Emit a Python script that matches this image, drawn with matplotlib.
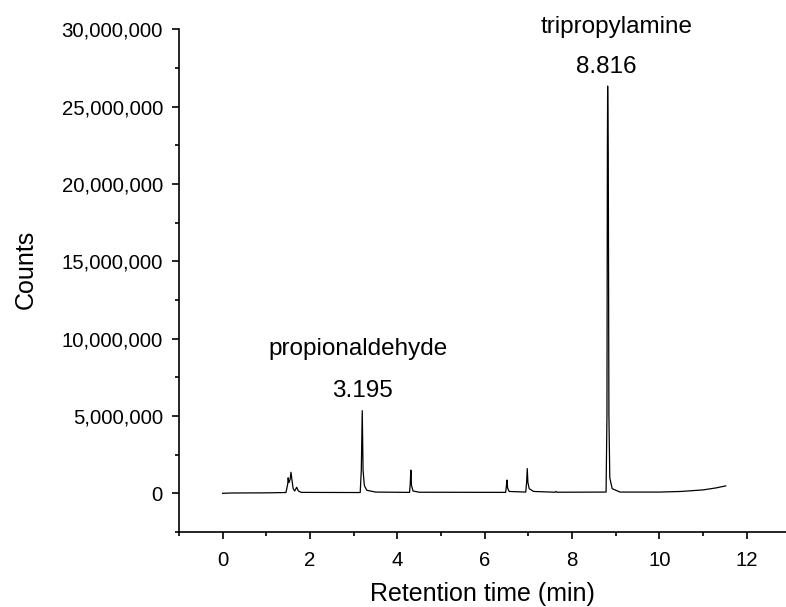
import matplotlib.pyplot as plt
from matplotlib.ticker import FuncFormatter, MultipleLocator

plt.rcParams['font.family'] = ['Liberation Sans', 'DejaVu Sans']

# chromatogram trace (time in min, counts)
time_min = [0.0, 0.2, 1.0, 1.45, 1.49, 1.50, 1.52, 1.545, 1.565, 1.585, 1.615, 1.65,
            1.695, 1.735, 1.8, 3.15, 3.175, 3.197, 3.215, 3.245, 3.3, 3.5,
            4.28, 4.295, 4.31, 4.325, 4.36, 4.5, 6.48, 6.495, 6.51, 6.525, 6.56,
            6.94, 6.96, 6.975, 6.99, 7.02, 7.12, 7.61, 7.63, 7.65, 8.78, 8.80,
            8.81, 8.816, 8.83, 8.845, 8.865, 8.92, 9.1, 10.0, 10.5, 11.0, 11.3, 11.52]
counts = [0.0, 0.02e6, 0.03e6, 0.05e6, 0.6e6, 1.0e6, 0.7e6, 0.9e6, 1.36e6, 0.9e6, 0.3e6, 0.15e6,
          0.39e6, 0.15e6, 0.06e6, 0.05e6, 1.5e6, 5.34e6, 1.5e6, 0.5e6, 0.2e6, 0.08e6,
          0.06e6, 0.6e6, 1.5e6, 0.5e6, 0.15e6, 0.07e6, 0.06e6, 0.4e6, 0.86e6, 0.35e6, 0.12e6,
          0.08e6, 0.7e6, 1.6e6, 0.7e6, 0.3e6, 0.12e6, 0.07e6, 0.12e6, 0.07e6, 0.08e6, 5.0e6,
          22.3e6, 26.33e6, 22.0e6, 5.0e6, 1.0e6, 0.3e6, 0.08e6, 0.08e6, 0.12e6, 0.22e6, 0.35e6, 0.48e6]

peak_names = ['propionaldehyde', 'tripropylamine']
peak_times = ['3.195', '8.816']
name_pos = [(3.10, 8.94e6), (9.03, 29.73e6)]
time_pos = [(3.19, 6.24e6), (8.79, 27.19e6)]

fig = plt.figure(figsize=(7.86, 6.07), dpi=100)
ax = fig.add_axes([0.2277, 0.1236, 0.7723, 0.8281])

ax.plot(time_min, counts, color='black', linewidth=0.9)

ax.set_xlim(-1, 12.9)
ax.set_ylim(-2.5e6, 30e6)
ax.xaxis.set_major_locator(MultipleLocator(2))
ax.xaxis.set_minor_locator(MultipleLocator(1))
ax.yaxis.set_major_locator(MultipleLocator(5e6))
ax.yaxis.set_minor_locator(MultipleLocator(2.5e6))
ax.yaxis.set_major_formatter(FuncFormatter(lambda v, p: f'{v:,.0f}'))

for s in ['top', 'right']:
    ax.spines[s].set_visible(False)
for s in ['left', 'bottom']:
    ax.spines[s].set_linewidth(1.2)
ax.tick_params(which='major', direction='out', length=5, width=1.2, labelsize=14.7)
ax.tick_params(which='minor', direction='out', length=3, width=1.2)
ax.tick_params(axis='x', which='major', pad=8.5)
ax.tick_params(axis='y', which='major', pad=6.5)

ax.set_xlabel('Retention time (min)', fontsize=18, labelpad=8.5)
ax.set_ylabel('Counts', fontsize=18)
ax.yaxis.set_label_coords(-0.232, 0.523)

for name, (x, y) in zip(peak_names, name_pos):
    ax.text(x, y, name, fontsize=17.5, ha='center', va='baseline', clip_on=False)
for lab, (x, y) in zip(peak_times, time_pos):
    ax.text(x, y, lab, fontsize=17.5, ha='center', va='baseline', clip_on=False)

fig.savefig('out.png', dpi=100)
